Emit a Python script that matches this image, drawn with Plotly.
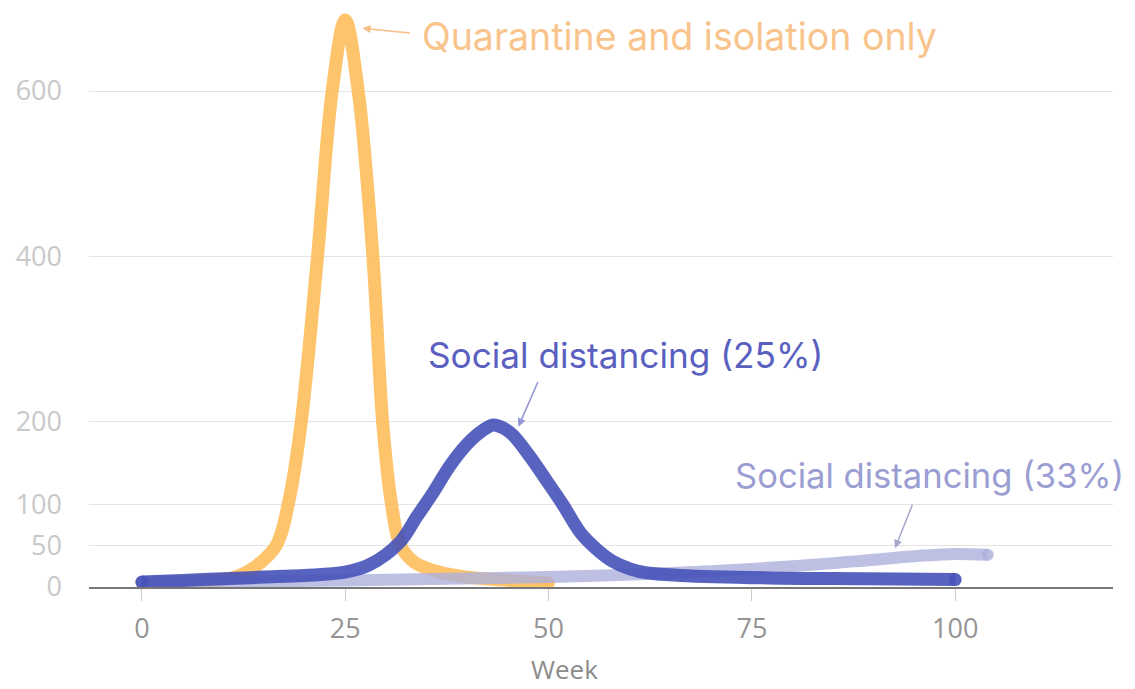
import plotly.graph_objects as go

# --- data (weeks, cases) ---
quarantine_weeks = [0, 5, 10, 12, 14, 16.5, 18.2, 19.6, 21.6, 23.4, 25, 26.6, 28.4, 29.6, 30.7, 31.8, 33.5, 36.5, 40, 45, 50]
quarantine_vals = [5, 6, 9, 14, 25, 50, 110, 200, 400, 600, 686, 600, 400, 200, 100, 50, 30, 18, 12, 8, 5]

sd25_weeks = [0, 5, 10, 15, 20, 25, 28, 31.7, 33.8, 35.8, 37.9, 40, 42, 43.2, 44.5, 45.6, 47.7, 49.8, 51.8, 53.9, 56, 57.9, 60, 62.1, 66.2, 77, 89, 100]
sd25_vals = [6, 8, 10, 12, 14, 18, 27, 54, 85, 114, 147, 173, 190, 196, 192, 184, 158, 128, 99, 66, 45, 31, 22, 17, 14, 11, 10, 9]

sd33_weeks = [0, 25, 50, 60, 70, 80, 90, 96, 100, 104]
sd33_vals = [5, 8, 12, 15, 19, 25, 33, 38, 40, 39]

y_ticks = [0, 50, 100, 200, 400, 600]
x_ticks = [0, 25, 50, 75, 100]

ORANGE = "rgba(253,188,88,0.88)"
BLUE = "rgba(70,82,184,0.9)"
LIGHT = "rgba(172,176,220,0.8)"

fig = go.Figure()


def add_series(xs, ys, color, width):
    fig.add_trace(go.Scatter(x=xs, y=ys, mode="lines",
                             line=dict(color=color, width=width, shape="spline", smoothing=1.0),
                             hoverinfo="skip"))
    # round line caps at both ends
    fig.add_trace(go.Scatter(x=[xs[0], xs[-1]], y=[ys[0], ys[-1]], mode="markers",
                             marker=dict(color=color, size=width, line=dict(width=0)),
                             hoverinfo="skip", cliponaxis=False))


add_series(quarantine_weeks, quarantine_vals, ORANGE, 13)
add_series(sd33_weeks, sd33_vals, LIGHT, 12)
add_series(sd25_weeks, sd25_vals, BLUE, 13)

ann_font = "Inter, Noto Sans, sans-serif"
annotations = [
    # Quarantine label with arrow
    dict(x=27.1, y=676, xref="x", yref="y", text="", showarrow=True,
         ax=49, ay=5, arrowhead=2, arrowsize=1.1, arrowwidth=1.5, arrowcolor="#F5BE86"),
    dict(x=0.3232, y=0.950, xref="paper", yref="paper", xanchor="left", yanchor="middle",
         text="Quarantine and isolation only", showarrow=False,
         font=dict(family=ann_font, size=37.5, color="#F9C48C")),
    # 25% label
    dict(x=46.3, y=194, xref="x", yref="y", text="", showarrow=True,
         ax=20, ay=-46, arrowhead=2, arrowsize=1.1, arrowwidth=1.5, arrowcolor="#9296D8"),
    dict(x=0.329, y=0.4007, xref="paper", yref="paper", xanchor="left", yanchor="middle",
         text="Social distancing (25%)", showarrow=False,
         font=dict(family=ann_font, size=35.2, color="#5A60C0")),
    # 33% label
    dict(x=92.6, y=47, xref="x", yref="y", text="", showarrow=True,
         ax=18, ay=-45, arrowhead=2, arrowsize=1.1, arrowwidth=1.5, arrowcolor="#A6A8CC"),
    dict(x=0.6289, y=0.1934, xref="paper", yref="paper", xanchor="left", yanchor="middle",
         text="Social distancing (33%)", showarrow=False,
         font=dict(family=ann_font, size=34.6, color="#9B9ED2")),
    # axis title
    dict(x=0.4648, y=-0.1416, xref="paper", yref="paper", xanchor="center", yanchor="middle",
         text="Week", showarrow=False, borderpad=0,
         font=dict(family="Open Sans, sans-serif", size=26, color="#8C8C8C")),
]

# the page body adds an 8px offset, so the figure is 8px smaller and margins compensate
fig.update_layout(
    width=1127, height=681,
    margin=dict(l=81, r=22, t=0, b=102),
    paper_bgcolor="white", plot_bgcolor="white",
    showlegend=False,
    annotations=annotations,
    xaxis=dict(range=[-6.5, 119.4], tickvals=x_ticks, ticktext=[str(v) for v in x_ticks],
               showgrid=False, zeroline=False, automargin=False,
               showline=True, linecolor="#777777", linewidth=2,
               ticks="outside", ticklen=12, tickwidth=1, tickcolor="#cccccc",
               ticklabelstandoff=5,
               tickfont=dict(family="Open Sans, sans-serif", size=27, color="#949494")),
    yaxis=dict(range=[0, 700.4], tickvals=y_ticks, ticktext=[str(v) for v in y_ticks],
               showgrid=True, gridcolor="#e4e4e4", gridwidth=1, zeroline=False, automargin=False,
               showline=False, ticks="", ticklabelstandoff=26,
               tickfont=dict(family="Open Sans, sans-serif", size=27, color="#c8c8c8")),
)

fig.write_html("out.html")
